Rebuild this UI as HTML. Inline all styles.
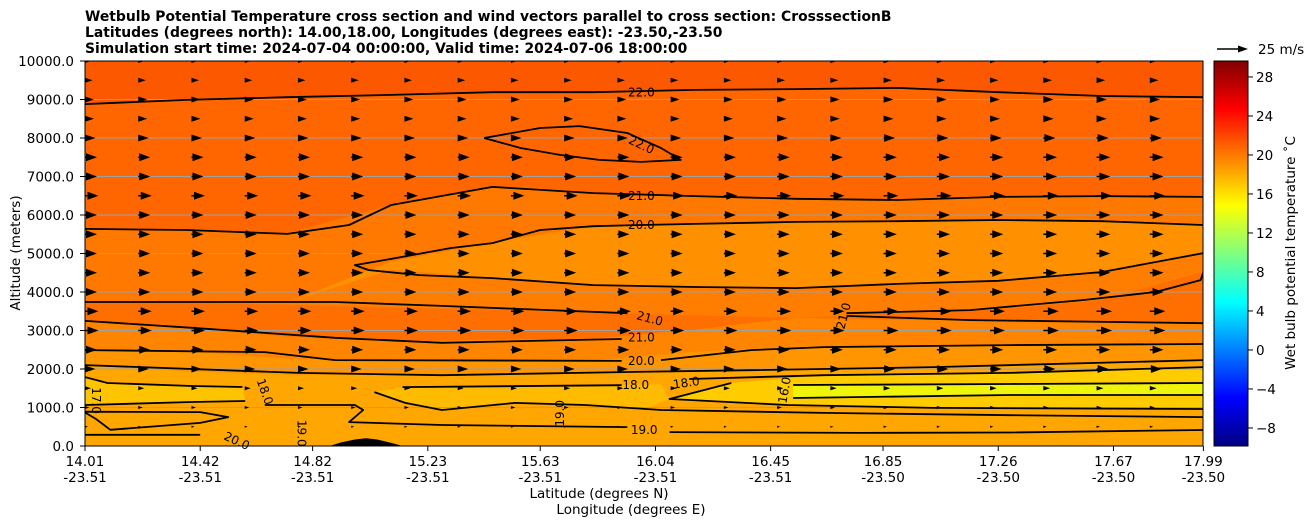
<!DOCTYPE html>
<html><head><meta charset="utf-8"><style>
body{margin:0;background:#fff;}
svg text{font-family:"DejaVu Sans","Liberation Sans",sans-serif;}
</style></head><body>
<svg id="chart" width="1311" height="526" xmlns="http://www.w3.org/2000/svg">
<defs>
<linearGradient id="jet" x1="0" y1="1" x2="0" y2="0">
<stop offset="0" stop-color="#000080"/><stop offset="0.125" stop-color="#0000ff"/>
<stop offset="0.375" stop-color="#00ffff"/><stop offset="0.625" stop-color="#ffff00"/>
<stop offset="0.875" stop-color="#ff0000"/><stop offset="1" stop-color="#800000"/>
</linearGradient>
<clipPath id="plotclip"><rect x="85" y="61" width="1118" height="385"/></clipPath>
</defs>
<g font-weight="bold" font-size="13.9">
<text x="85" y="21">Wetbulb Potential Temperature cross section and wind vectors parallel to cross section: CrosssectionB</text>
<text x="85" y="37">Latitudes (degrees north): 14.00,18.00, Longitudes (degrees east): -23.50,-23.50</text>
<text x="85" y="53">Simulation start time: 2024-07-04 00:00:00, Valid time: 2024-07-06 18:00:00</text>
</g>
<g id="fills" clip-path="url(#plotclip)"></g>
<g id="grid"></g>
<g id="lines" clip-path="url(#plotclip)"></g>
<g id="arrows" clip-path="url(#plotclip)"></g>
<g id="clabels" font-size="12"></g>
<rect x="85" y="61" width="1118" height="385" fill="none" stroke="#000" stroke-width="1"/>
<g id="axes" font-size="13.5"></g>
<text font-size="13.5" transform="translate(20,253) rotate(-90)" text-anchor="middle">Altitude (meters)</text>
<text font-size="13.5" x="599" y="498" text-anchor="middle">Latitude (degrees N)</text>
<text font-size="13.5" x="631" y="514" text-anchor="middle">Longitude (degrees E)</text>
<rect x="1214" y="61" width="34" height="385" fill="url(#jet)" stroke="#000" stroke-width="1"/>
<g id="cbticks" font-size="13.5"></g>
<text font-size="13.5" transform="translate(1295,253) rotate(-90)" text-anchor="middle">Wet bulb potential temperature ˚C</text>
<g>
<line x1="1217" y1="49" x2="1240" y2="49" stroke="#000" stroke-width="1.5"/>
<polygon points="1248,49 1238,45.5 1238,52.5" fill="#000"/>
<text x="1258" y="54" font-size="13.5">25 m/s</text>
</g>
</svg>
<script>
const NS="http://www.w3.org/2000/svg";
const latTicks=[14.01,14.42,14.82,15.23,15.63,16.04,16.45,16.85,17.26,17.67,17.99];
const lonTicks=["-23.51","-23.51","-23.51","-23.51","-23.51","-23.51","-23.51","-23.50","-23.50","-23.50","-23.50"];
const altTicks=[0,1000,2000,3000,4000,5000,6000,7000,8000,9000,10000];
const cbTicks=[-8,-4,0,4,8,12,16,20,24,28];
const bandLat=[14.01,14.37,14.73,15.10,15.46,15.82,16.18,16.54,16.90,17.26,17.63,17.99];
const bound22=[8880,8990,9060,9120,9190,9190,9250,9270,9300,9190,9090,9060];
const bound21=[5640,5610,5510,6260,6730,6570,6490,6420,6390,6470,6490,6470];
const boundTongueTop=[3740,3710,3710,4780,5270,5710,5770,5820,5840,5870,5840,5740];
const boundTongueBot=[3740,3710,3710,4570,4360,4180,4130,4100,4210,4290,4520,5010];
const boundA=[3740,3710,3660,3580,3530,3450,3380,3320,3430,3530,3790,4520];
const boundB=[3250,3070,2830,2700,2750,2780,3010,3320,3270,3250,3220,3190];
const boundC=[2490,2440,2260,2210,2210,2210,2440,2570,2600,2620,2650,2650];
const boundD=[2100,1920,1840,1840,1870,1920,1950,2000,2050,2100,2180,2230];
const bandColors=["#fb5800","#ff6600","#ff7800","#ff9000","#ff7e00","#ff6f00","#ff8500","#ff9500","#ffa600"];
const leftYellow=[[14.01,1790],[14.09,1636],[14.39,1558],[14.57,1532],[14.58,1169],[14.39,1143],[14.01,1065]];
const midYellow=[[15.04,1403],[15.14,1532],[15.92,1584],[16.06,1600],[16.09,1221],[16.00,961],[15.79,1065],[15.54,1117],[15.28,935],[15.15,1117]];
const rightTongue=[[16.09,1221],[16.31,1636],[16.64,1844],[17.30,1896],[17.99,2052],[17.99,961],[17.03,987],[16.51,1065]];
const innerYellow=[[16.53,1584],[17.30,1610],[17.99,1636],[17.99,1325],[17.30,1325],[16.53,1247]];
const terrain=[[14.88,0],[14.92,90],[14.97,170],[15.01,200],[15.05,170],[15.10,80],[15.14,0]];
const contours=[
[[14.01,8880],[14.37,8990],[14.73,9060],[15.10,9120],[15.46,9190],[15.82,9190],[16.18,9250],[16.54,9270],[16.90,9300],[17.26,9190],[17.63,9090],[17.99,9060]],
[[15.43,8000],[15.63,8260],[15.77,8310],[15.94,8130],[16.06,7740],[16.13,7430],[15.99,7380],[15.84,7430],[15.70,7560],[15.56,7740],[15.43,8000]],
[[14.01,5640],[14.37,5610],[14.73,5510],[14.95,5740],[15.10,6260],[15.46,6730],[15.82,6570],[16.18,6490],[16.54,6420],[16.90,6390],[17.26,6470],[17.63,6490],[17.99,6470]],
[[17.99,5740],[17.63,5840],[17.26,5870],[16.90,5840],[16.54,5820],[16.18,5770],[15.99,5740],[15.82,5710],[15.63,5610],[15.46,5270],[15.31,5140],[15.10,4860],[14.97,4700],[15.02,4570],[15.20,4440],[15.46,4360],[15.82,4180],[16.18,4130],[16.54,4100],[16.90,4210],[17.26,4290],[17.63,4520],[17.99,5010]],
[[14.01,3740],[14.37,3740],[14.90,3740],[15.28,3640],[15.94,3450]],
[[14.01,3250],[14.39,3070],[14.90,2810],[15.28,2680],[15.92,2780]],
[[14.01,2490],[14.65,2440],[14.90,2230],[15.92,2210]],
[[14.01,2100],[14.77,1900],[15.28,1840],[15.92,1920],[16.38,1970],[17.03,2050],[17.99,2230]],
[[14.01,1790],[14.09,1636],[14.39,1558],[14.57,1532]],
[[14.58,1169],[14.39,1143],[14.01,1065]],
[[14.01,890],[14.42,880],[14.52,750],[14.42,600],[14.10,420],[14.05,700],[14.01,870]],
[[14.65,1065],[14.97,1065],[15.00,935],[14.95,620],[15.28,545],[15.94,490]],
[[15.04,1400],[15.15,1120],[15.28,935],[15.54,1120],[15.79,1065],[16.06,935],[16.64,860],[17.30,800],[17.99,750]],
[[15.14,1530],[15.92,1580]],
[[14.01,290],[14.42,290]],
[[16.06,2230],[16.38,2490],[16.64,2570],[17.30,2620],[17.99,2650]],
[[16.16,1740],[16.64,1840],[17.30,1900],[17.99,2050]],
[[16.31,1636],[16.09,1220],[16.51,1065],[17.03,990],[17.99,960]],
[[16.53,1584],[17.30,1610],[17.99,1636]],
[[16.53,1247],[17.30,1325],[17.99,1325]],
[[16.09,360],[16.77,340],[17.30,350],[17.99,416]],
[[16.72,3450],[17.16,3530],[17.56,3790],[17.82,4000],[17.98,4310],[17.99,4520]],
[[16.72,3380],[17.16,3270],[17.99,3190]]
];
const clabelText=["22.0","22.0","21.0","20.0","21.0","21.0","20.0","18.0","18.0","17.0","18.0","19.0","19.0","19.0","16.0","21.0","20.0"];
const clabelLat=[15.99,15.99,15.99,15.99,16.02,15.99,15.99,15.97,16.15,14.05,14.65,14.78,15.70,16.00,16.50,16.71,14.55];
const clabelAlt=[9180,7820,6500,5740,3310,2820,2210,1580,1640,1180,1410,330,850,420,1450,3380,130];
const clabelRot=[0,25,0,0,15,0,0,0,-8,90,70,90,-90,0,-80,-75,25];
const rowAlts=[0,500,1000,1500,2000,2500,3000,3500,4000,4500,5000,5500,6000,6500,7000,7500,8000,8500,9000,9500,10000];
const rowSpeed=[0,2,3,4,7,8,9,9,8,8,8,8,8,9,8,8,7,6,6,5,4];
const colFactor=[1,1,1,1,1,1,1,1,1,1,1,1,1,1.05,1.05,1.1,1.1,1.1,1.15,1.15,1.15,1.15];

const X=lat=>85+(lat-14.01)*281;
const Y=alt=>446-alt*0.0385;
function el(tag,attrs,parent){const e=document.createElementNS(NS,tag);for(const k in attrs)e.setAttribute(k,attrs[k]);parent.appendChild(e);return e;}
function ptsPath(p){return p.map((q,i)=>(i?"L":"M")+X(q[0]).toFixed(1)+","+Y(q[1]).toFixed(1)).join("");}
const fills=document.getElementById("fills");
const bounds=[bound22,bound21,boundTongueTop,boundTongueBot,boundA,boundB,boundC,boundD];
let upper=bandLat.map(()=>10500);
for(let b=0;b<=bounds.length;b++){
  const lower=b<bounds.length?bounds[b]:bandLat.map(()=>-100);
  const pts=bandLat.map((l,i)=>[l,upper[i]]).concat(bandLat.map((l,i)=>[l,lower[i]]).reverse());
  const p=el("path",{d:ptsPath(pts)+"Z",fill:bandColors[b],stroke:bandColors[b],"stroke-width":"1"},fills);
  
  
  upper=lower;
}
const polys=[[leftYellow,"#ffc400"],[midYellow,"#ffbb00"],[rightTongue,"#ffcc00"],[innerYellow,"#eef50a"]];
for(const [pp,c] of polys){
  const p=el("path",{d:ptsPath(pp)+"Z",fill:c},fills);
  
  
}
const grid=document.getElementById("grid");
for(const a of altTicks){
  const g=el("line",{x1:85,x2:1203,y1:Y(a),y2:Y(a),stroke:"#a0a0a0","stroke-width":"1"},grid);
  
  
}
const lines=document.getElementById("lines");
for(const c of contours){
  const p=el("path",{d:ptsPath(c),fill:"none",stroke:"#000","stroke-width":"1.8","stroke-linejoin":"round"},lines);
  
  
}
const t=el("path",{d:ptsPath(terrain)+"Z",fill:"#000"},lines);


const arrows=document.getElementById("arrows");
for(let r=0;r<rowAlts.length;r++){
  for(let c=0;c<colFactor.length;c++){
    const s=rowSpeed[r]*colFactor[c]; if(s<=0)continue;
    const x=85+c*53.24, y=Y(rowAlts[r]);
    const L=s*1.5, hw=Math.min(4,0.5*s);
    const hl=Math.min(L,11);
    const a=el("path",{d:`M${x},${y-0.7}L${x+L-hl},${y-0.7}L${x+L-hl},${y-hw}L${x+L},${y}L${x+L-hl},${y+hw}L${x+L-hl},${y+0.7}L${x},${y+0.7}Z`,fill:"#000"},arrows);
    
    
  }
}
const cl=document.getElementById("clabels");
for(let i=0;i<clabelText.length;i++){
  const x=X(clabelLat[i]),y=Y(clabelAlt[i]);
  const tx=el("text",{x:x,y:y+4,"text-anchor":"middle",transform:`rotate(${clabelRot[i]},${x},${y})`},cl);
  tx.textContent=clabelText[i];
  
  
}
const axes=document.getElementById("axes");
latTicks.forEach((l,i)=>{
  const x=X(l);
  const tk=el("line",{x1:x,x2:x,y1:446,y2:451,stroke:"#000"},axes);
  
  
  const t1=el("text",{x:x,y:466,"text-anchor":"middle"},axes); t1.textContent=l.toFixed(2);
  
  
  const t2=el("text",{x:x,y:482,"text-anchor":"middle"},axes); t2.textContent=lonTicks[i];
  
  
});
altTicks.forEach(a=>{
  const y=Y(a);
  const tk=el("line",{x1:80,x2:85,y1:y,y2:y,stroke:"#000"},axes);
  
  
  const tl=el("text",{x:74,y:y+5,"text-anchor":"end"},axes); tl.textContent=a.toFixed(1);
  
  
});
const cbt=document.getElementById("cbticks");
cbTicks.forEach(v=>{
  const y=446-(v+9.85)*9.75;
  const tk=el("line",{x1:1248,x2:1253,y1:y,y2:y,stroke:"#000"},cbt);
  
  
  const tl=el("text",{x:1256,y:y+5},cbt); tl.textContent=v<0?"\u2212"+(-v):String(v);
  
  
});
</script>
</body></html>
